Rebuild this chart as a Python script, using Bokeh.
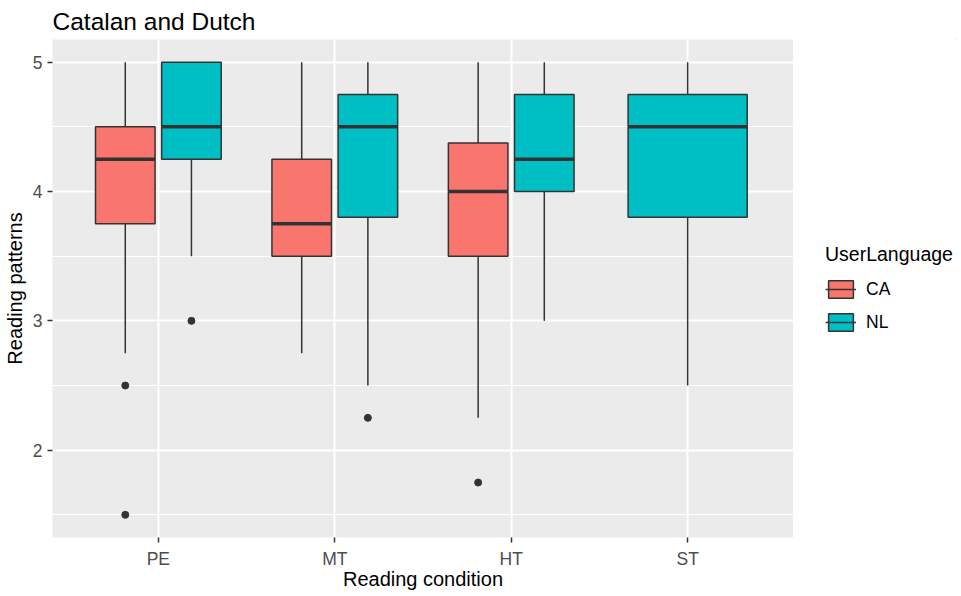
from bokeh.plotting import figure
from bokeh.layouts import row
from bokeh.models import ColumnDataSource, Range1d, FixedTicker, Legend, LegendItem
from bokeh.embed import file_html
from bokeh.resources import INLINE

# ---- data -------------------------------------------------------------
conditions = ["PE", "MT", "HT", "ST"]
languages = ["CA", "NL"]

ca_conditions = ["PE", "MT", "HT"]
ca_lower = [2.75, 2.75, 2.25]
ca_q1 = [3.75, 3.5, 3.5]
ca_median = [4.25, 3.75, 4.0]
ca_q3 = [4.5, 4.25, 4.375]
ca_upper = [5.0, 5.0, 5.0]
ca_outlier_conditions = ["PE", "PE", "HT"]
ca_outliers = [2.5, 1.5, 1.75]

nl_conditions = ["PE", "MT", "HT", "ST"]
nl_lower = [3.5, 2.5, 3.0, 2.5]
nl_q1 = [4.25, 3.8, 4.0, 3.8]
nl_median = [4.5, 4.5, 4.25, 4.5]
nl_q3 = [5.0, 4.75, 4.75, 4.75]
nl_upper = [5.0, 5.0, 5.0, 5.0]
nl_outlier_conditions = ["PE", "MT"]
nl_outliers = [3.0, 2.25]

y_ticks = [2, 3, 4, 5]
y_minor = [1.5, 2.5, 3.5, 4.5]

fill = {"CA": "#F8766D", "NL": "#00BFC4"}
FONT = "Liberation Sans"
DARK = "#333333"

series = {
    "CA": dict(cond=ca_conditions, lower=ca_lower, q1=ca_q1, med=ca_median, q3=ca_q3,
               upper=ca_upper, oc=ca_outlier_conditions, ov=ca_outliers),
    "NL": dict(cond=nl_conditions, lower=nl_lower, q1=nl_q1, med=nl_median, q3=nl_q3,
               upper=nl_upper, oc=nl_outlier_conditions, ov=nl_outliers),
}

# dodge positions (ggplot-like: total width 0.75, box 90% of slot)
DODGE = 0.75


def place(lang, cond):
    present = [l for l in languages if cond in series[l]["cond"]]
    slot = DODGE / len(present)
    k = present.index(lang)
    center = conditions.index(cond) + 1 - DODGE / 2 + slot * (k + 0.5)
    return center, slot * 0.9


p = figure(frame_width=741, frame_height=498,
           x_range=Range1d(0.4, 4.6), y_range=Range1d(1.325, 5.175),
           output_backend="svg", toolbar_location=None,
           title="Catalan and Dutch",
           x_axis_label="Reading condition", y_axis_label="Reading patterns",
           min_border_left=48, min_border_top=32, min_border_right=0,
           min_border_bottom=50)

p.background_fill_color = "#EBEBEB"
p.border_fill_color = "white"
p.outline_line_color = None

for lang in languages:
    s = series[lang]
    xs, ws = zip(*[place(lang, c) for c in s["cond"]])
    xs, ws = list(xs), list(ws)
    src = ColumnDataSource(dict(
        x=xs, w=ws,
        x0=[x - w / 2 for x, w in zip(xs, ws)],
        x1=[x + w / 2 for x, w in zip(xs, ws)],
        lower=s["lower"], q1=s["q1"], med=s["med"], q3=s["q3"], upper=s["upper"]))
    p.segment(x0="x", x1="x", y0="q3", y1="upper", source=src,
              line_color=DARK, line_width=1.5)
    p.segment(x0="x", x1="x", y0="q1", y1="lower", source=src,
              line_color=DARK, line_width=1.5)
    p.vbar(x="x", width="w", top="q3", bottom="q1", source=src,
           fill_color=fill[lang], line_color=DARK, line_width=1.5)
    p.segment(x0="x0", x1="x1", y0="med", y1="med", source=src,
              line_color=DARK, line_width=3.5)
    ox = [place(lang, c)[0] for c in s["oc"]]
    p.scatter(ox, s["ov"], size=7, color=DARK)

# axes / grid
p.xaxis.ticker = FixedTicker(ticks=[i + 1 for i in range(len(conditions))])
p.xaxis.major_label_overrides = {i + 1: c for i, c in enumerate(conditions)}
p.yaxis.ticker = FixedTicker(ticks=y_ticks, minor_ticks=y_minor)

for ax in (p.xaxis[0], p.yaxis[0]):
    ax.axis_line_color = None
    ax.major_tick_in = 0
    ax.major_tick_out = 5
    ax.major_tick_line_color = DARK
    ax.major_tick_line_width = 1.5
    ax.minor_tick_in = 0
    ax.minor_tick_out = 0
    ax.major_label_text_font = FONT
    ax.major_label_text_font_size = "17.5px"
    ax.major_label_text_color = "#4D4D4D"
    ax.axis_label_text_font = FONT
    ax.axis_label_text_font_size = "20px"
    ax.axis_label_text_font_style = "normal"
    ax.axis_label_text_color = "black"
p.xaxis.major_label_standoff = 6
p.xaxis.axis_label_standoff = -4
p.yaxis.major_label_standoff = 5
p.yaxis.axis_label_standoff = 4

p.xgrid.grid_line_color = "white"
p.xgrid.grid_line_width = 2
p.ygrid.grid_line_color = "white"
p.ygrid.grid_line_width = 2
p.ygrid.minor_grid_line_color = "white"
p.ygrid.minor_grid_line_width = 1

p.title.text_font = FONT
p.title.text_font_size = "24.5px"
p.title.text_font_style = "normal"
p.title.text_color = "black"
p.title.align = "left"

# ---- legend panel (separate small figure to the right) ----------------
q = figure(width=163, height=580, x_range=Range1d(0, 1), y_range=Range1d(0, 1),
           output_backend="svg", toolbar_location=None,
           x_axis_location=None, y_axis_location=None,
           min_border=0)
q.grid.visible = False
q.outline_line_color = None
q.background_fill_color = "white"
q.border_fill_color = "white"

items = []
for lang in languages:
    key_src = ColumnDataSource(dict(x=[5.0], w=[0.5], top=[5.0], bottom=[4.0],
                                    x0=[4.75], x1=[5.25], y=[4.5]))
    kb = q.vbar(x="x", width="w", top="top", bottom="bottom", source=key_src,
                fill_color=fill[lang], line_color=DARK, line_width=1.5)
    km = q.segment(x0="x0", x1="x1", y0="y", y1="y", source=key_src,
                   line_color=DARK, line_width=1.5)
    items.append(LegendItem(label=lang, renderers=[kb, km]))

legend = Legend(items=items, location=(32, 192),
                title="UserLanguage",
                title_text_font=FONT, title_text_font_size="19.5px",
                title_text_font_style="normal", title_text_color="black",
                title_standoff=12,
                label_text_font=FONT, label_text_font_size="17.5px",
                label_text_color="black",
                glyph_width=31, glyph_height=22, spacing=11, label_standoff=10,
                padding=0, margin=0,
                background_fill_alpha=0, border_line_alpha=0)
q.add_layout(legend, "center")

layout = row(p, q)
open("out.html", "w").write(file_html(layout, INLINE))
